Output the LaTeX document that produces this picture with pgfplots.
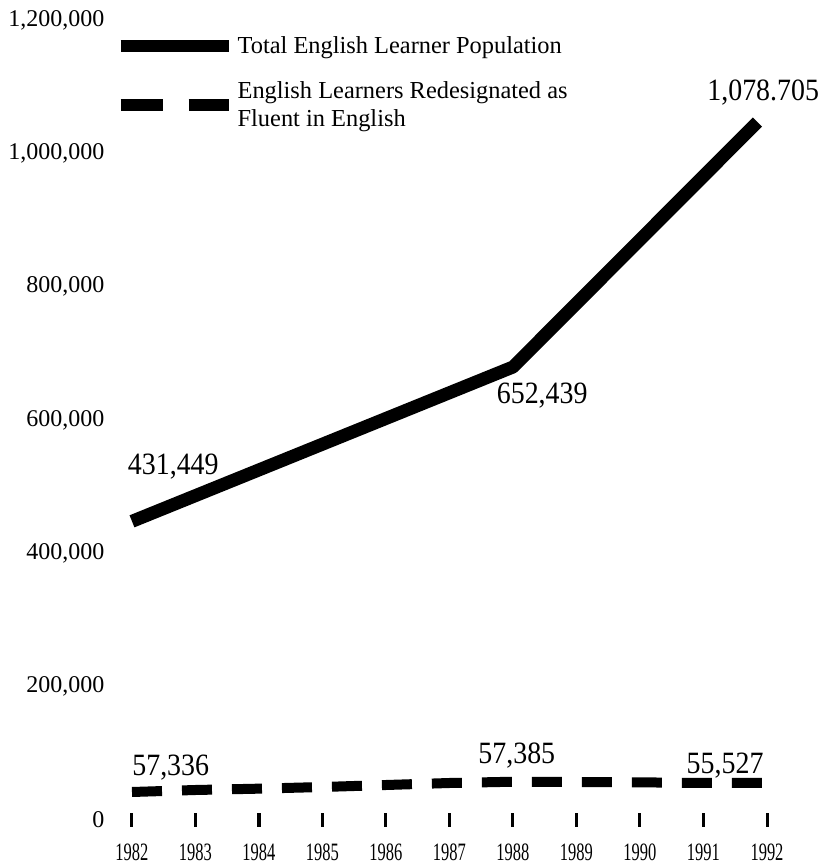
\documentclass[border=0pt]{standalone}
\usepackage{fontspec}
\setmainfont{Liberation Serif}
\usepackage{pgfplots}
\pgfplotsset{compat=1.18}
\newcommand\yr[1]{\scalebox{0.66}[1]{#1}}
\newcommand\val[1]{\scalebox{0.9}[1]{#1}}
\begin{document}
\begin{tikzpicture}
\useasboundingbox (0,0) rectangle (413.5pt,432pt);
\begin{axis}[
  at={(66pt,22pt)}, anchor=south west,
  scale only axis, width=317.5pt, height=400pt,
  xmin=1982, xmax=1992, ymin=0, ymax=1200000,
  clip=false,
  axis line style={draw=none},
  xtick={1982,1983,...,1992},
  xticklabels={\yr{1982},\yr{1983},\yr{1984},\yr{1985},\yr{1986},\yr{1987},\yr{1988},\yr{1989},\yr{1990},\yr{1991},\yr{1992}},
  ytick={0,200000,400000,600000,800000,1000000,1200000},
  yticklabels={{0},{200,000},{400,000},{600,000},{800,000},{1,000,000},{1,200,000}},
  scaled y ticks=false,
  tick pos=left,
  tick align=center,
  major tick length=6.5pt,
  ytick style={draw=none},
  xtick style={black, line width=1.5pt},
  yticklabel style={font=\fontsize{12}{14}\selectfont, xshift=-7pt},
  xticklabel style={font=\fontsize{12.5}{13}\selectfont, inner sep=1pt, yshift=-7.5pt},
  legend style={at={(-0.028,0.984)}, anchor=north west, draw=none, fill=none,
    inner sep=0pt, row sep=9.5pt, column sep=0pt,
    nodes={inner sep=1.5pt},
    font=\fontsize{12.2}{14}\selectfont, cells={anchor=west, align=left}},
]
\addplot[black, line width=6.5pt, line join=round,
  legend image code/.code={\draw[black, line width=6pt] (0pt,0pt) -- (54pt,0pt);}]
  coordinates {(1982,448000) (1988,679500) (1991.85,1047000)};
\addlegendentry{Total English Learner Population}
\addplot[black, line width=5pt, dash pattern=on 15pt off 10pt,
  legend image code/.code={\draw[black, line width=6pt, dash pattern=on 21pt off 13pt] (0pt,0pt) -- (54pt,0pt);}]
  coordinates {(1982,42000) (1983,45000) (1984,47000) (1985,49500) (1986,52500)
    (1987,55500) (1988,57385) (1989,57000) (1990,56500) (1991,55527) (1992,55527)};
\addlegendentry{English Learners Redesignated as\\Fluent in English}
\begin{scope}[every node/.style={font=\fontsize{15.5}{17}\selectfont}]
\node at (axis cs:1982.65,529500) {\val{431,449}};
\node at (axis cs:1988.46,636000) {\val{652,439}};
\node at (axis cs:1991.94,1090500) {\val{1,078.705}};
\node at (axis cs:1982.61,78000) {\val{57,336}};
\node at (axis cs:1988.06,96000) {\val{57,385}};
\node at (axis cs:1991.34,81000) {\val{55,527}};
\end{scope}
\end{axis}
\end{tikzpicture}
\end{document}
